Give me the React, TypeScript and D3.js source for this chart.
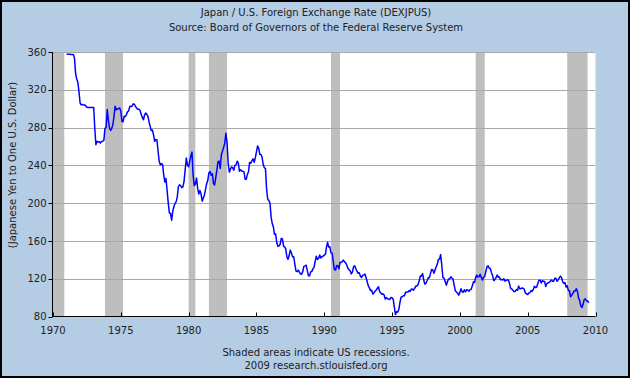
import React from "react";
import * as d3 from "d3";

const titleText = "Japan / U.S. Foreign Exchange Rate (DEXJPUS)";
const subtitleText = "Source: Board of Governors of the Federal Reserve System";
const yAxisLabel = "(Japanese Yen to One U.S. Dollar)";
const footerLine1 = "Shaded areas indicate US recessions.";
const footerLine2 = "2009 research.stlouisfed.org";

const xTickYears = [1970, 1975, 1980, 1985, 1990, 1995, 2000, 2005, 2010];
const yTickValues = [80, 120, 160, 200, 240, 280, 320, 360];

// NBER recessions (peak month, trough month)
const recessions: [string, string][] = [
  ["1969-12", "1970-11"],
  ["1973-11", "1975-03"],
  ["1980-01", "1980-07"],
  ["1981-07", "1982-11"],
  ["1990-07", "1991-03"],
  ["2001-03", "2001-11"],
  ["2007-12", "2009-06"],
];

// Monthly yen per dollar, starting January 1971
const firstMonth = "1971-01";
const rates1970s = [
  358.0, 357.5, 357.5, 357.5, 357.4, 357.4, 357.4, 354.0, 337.5, 331.5, 328.0, 318.0,
  306.0, 304.0, 304.5, 304.0, 304.0, 303.0, 301.5, 301.2, 301.2, 301.2, 301.2, 301.2,
  301.2, 278.0, 261.9, 265.5, 264.7, 265.0, 263.6, 265.3, 265.5, 266.4, 279.1, 280.0,
  299.0, 287.6, 279.8, 276.9, 279.0, 282.9, 291.7, 302.5, 298.8, 299.7, 300.1, 300.8,
  297.6, 286.5, 286.0, 292.0, 291.7, 293.7, 296.7, 297.7, 302.5, 302.2, 302.8, 305.1,
  304.7, 302.5, 300.6, 299.3, 299.4, 298.5, 294.1, 291.0, 288.3, 293.1, 295.4, 294.0,
  291.8, 285.7, 281.5, 276.8, 277.4, 272.3, 265.4, 267.4, 266.8, 254.7, 244.0, 240.5,
  241.9, 240.6, 230.0, 222.4, 226.0, 213.7, 200.6, 189.6, 189.1, 182.0, 191.6, 196.2,
  199.8, 201.6, 206.4, 217.5, 219.4, 218.6, 216.3, 217.3, 223.2, 235.5, 247.7, 240.2,
];
const rates1980s = [
  238.5, 244.5, 250.0, 254.0, 229.6, 218.6, 220.1, 226.6, 215.6, 209.6, 213.4, 209.8,
  202.1, 205.5, 208.4, 214.6, 220.5, 224.2, 232.2, 233.4, 229.6, 231.2, 220.8, 219.2,
  226.9, 235.3, 243.8, 244.6, 236.8, 251.2, 255.1, 259.0, 263.4, 274.0, 264.1, 242.6,
  232.8, 236.0, 238.3, 237.6, 234.8, 240.0, 240.5, 244.4, 242.4, 233.8, 235.3, 234.1,
  233.7, 233.0, 225.3, 225.2, 230.4, 233.2, 243.1, 242.2, 245.1, 246.9, 243.3, 247.9,
  254.2, 260.5, 258.4, 251.7, 251.6, 248.8, 241.1, 237.5, 236.5, 214.7, 204.1, 202.8,
  199.9, 184.9, 178.7, 175.1, 167.0, 167.5, 158.6, 154.2, 154.7, 156.5, 162.7, 162.1,
  154.5, 153.5, 151.6, 143.0, 140.5, 144.5, 150.3, 147.3, 143.3, 143.3, 135.4, 128.2,
  127.4, 129.1, 127.2, 124.9, 124.8, 127.5, 133.1, 133.6, 134.3, 128.5, 123.2, 123.2,
  127.2, 127.8, 130.4, 132.0, 138.4, 143.9, 140.4, 141.5, 145.1, 141.9, 143.5, 143.7,
];
const rates1990s = [
  145.0, 145.7, 153.3, 158.5, 153.5, 153.8, 147.4, 147.1, 138.4, 129.6, 129.2, 133.9,
  133.7, 130.5, 137.4, 137.1, 138.2, 139.8, 137.8, 136.8, 134.3, 130.8, 129.6, 128.1,
  125.1, 127.5, 132.7, 133.6, 130.6, 128.0, 125.7, 126.3, 122.6, 121.2, 123.8, 123.9,
  124.9, 120.8, 117.0, 112.4, 110.3, 107.4, 107.7, 103.8, 105.1, 106.9, 107.9, 109.9,
  111.4, 106.3, 105.1, 103.5, 104.0, 102.7, 98.5, 100.0, 98.8, 98.4, 98.0, 100.2,
  99.8, 98.2, 90.8, 82.0, 85.1, 84.6, 87.4, 94.7, 100.6, 100.8, 101.9, 101.9,
  105.8, 105.8, 105.9, 107.4, 106.5, 108.8, 109.2, 107.9, 109.8, 112.3, 112.3, 113.9,
  117.9, 122.9, 122.7, 125.6, 119.2, 114.3, 115.1, 117.9, 120.9, 121.1, 125.4, 129.7,
  129.4, 125.8, 129.0, 132.4, 135.0, 140.3, 140.7, 145.5, 134.5, 121.3, 120.6, 117.4,
  113.2, 116.7, 119.7, 119.7, 122.0, 120.7, 119.7, 113.2, 107.3, 106.0, 104.7, 102.6,
];
const rates2000s = [
  105.3, 109.4, 106.3, 105.6, 108.3, 106.1, 108.2, 108.1, 106.8, 108.4, 108.9, 112.2,
  116.7, 116.1, 121.2, 123.8, 121.8, 122.2, 124.6, 121.4, 118.6, 121.5, 122.4, 127.6,
  132.7, 133.6, 131.1, 130.8, 126.4, 123.3, 118.0, 119.0, 121.1, 123.9, 121.6, 121.9,
  118.8, 119.3, 118.6, 119.9, 117.4, 118.3, 118.7, 118.7, 114.8, 109.5, 109.2, 107.7,
  106.3, 106.6, 108.5, 107.7, 112.2, 109.4, 109.4, 110.2, 110.0, 108.8, 104.7, 103.8,
  103.3, 104.9, 105.3, 107.4, 106.6, 108.7, 111.9, 110.6, 111.2, 114.9, 118.5, 118.5,
  115.5, 117.9, 117.3, 117.1, 111.7, 114.7, 115.6, 115.9, 117.2, 118.6, 117.3, 117.3,
  120.5, 120.5, 117.3, 118.8, 120.8, 122.7, 121.4, 116.7, 115.0, 115.9, 111.2, 112.4,
  107.6, 107.2, 100.8, 102.6, 104.4, 106.9, 106.9, 109.4, 106.6, 99.9, 96.8, 91.3,
  89.5, 92.9, 97.9, 98.8, 96.6, 96.6, 94.5,
];

const W = 630;
const H = 378;
const plotLeft = 53;
const plotRight = 595.5;
const plotTop = 52;
const plotBottom = 316.5;
const FONT = "'DejaVu Sans', Verdana, sans-serif";
const TEXT_COLOR = "#222";
const FS = 10;

const parseMonth = d3.timeParse("%Y-%m");

export default function App() {
  const allRates = [...rates1970s, ...rates1980s, ...rates1990s, ...rates2000s];
  const start = parseMonth(firstMonth) as Date;
  const series = allRates.map((v, i) => ({ date: d3.timeMonth.offset(start, i), value: v }));

  const x = d3
    .scaleTime()
    .domain([new Date(1970, 0, 1), new Date(2010, 0, 1)])
    .range([plotLeft, plotRight]);
  const y = d3.scaleLinear().domain([80, 360]).range([plotBottom, plotTop]);

  const line = d3
    .line<{ date: Date; value: number }>()
    .x((d) => x(d.date))
    .y((d) => y(d.value));

  const [d0, d1] = x.domain();

  return (
    <svg
      width={W}
      height={H}
      style={{ position: "absolute", left: 0, top: 0, display: "block" }}
      fontFamily={FONT}
    >
      <defs>
        <clipPath id="plotClip">
          <rect x={plotLeft} y={plotTop} width={plotRight - plotLeft} height={plotBottom - plotTop} />
        </clipPath>
      </defs>
      <rect x={0} y={0} width={W} height={H} fill="#b4cce4" />
      <rect x={1} y={1} width={W - 2} height={H - 2} fill="none" stroke="#000" strokeWidth={2} />

      <text x={316} y={16} textAnchor="middle" fontSize={FS} fill={TEXT_COLOR}>
        {titleText}
      </text>
      <text x={316} y={31} textAnchor="middle" fontSize={FS} fill={TEXT_COLOR}>
        {subtitleText}
      </text>

      <rect
        x={plotLeft}
        y={plotTop}
        width={plotRight - plotLeft}
        height={plotBottom - plotTop}
        fill="#fff"
      />

      <g clipPath="url(#plotClip)">
        {recessions.map(([s, e], i) => {
          const sd = parseMonth(s) as Date;
          const ed = parseMonth(e) as Date;
          const xs = x(sd < d0 ? d0 : sd);
          const xe = x(ed > d1 ? d1 : ed);
          return (
            <rect key={i} x={xs} y={plotTop} width={xe - xs} height={plotBottom - plotTop} fill="#bebebe" />
          );
        })}
        {yTickValues.map((v) => (
          <line
            key={v}
            x1={plotLeft}
            x2={plotRight}
            y1={Math.round(y(v)) + 0.5}
            y2={Math.round(y(v)) + 0.5}
            stroke="#a8a8a8"
            strokeWidth={1}
          />
        ))}
        <path d={line(series) || ""} fill="none" stroke="#0000ff" strokeWidth={1.5} strokeLinejoin="round" />
      </g>

      {/* axes */}
      <line x1={52.5} x2={52.5} y1={plotTop} y2={plotBottom + 0.5} stroke="#000" strokeWidth={1} />
      <line x1={52.5} x2={plotRight} y1={316.5} y2={316.5} stroke="#000" strokeWidth={1} />

      {yTickValues.map((v) => (
        <g key={v}>
          <line
            x1={48.5}
            x2={52.5}
            y1={Math.round(y(v)) + 0.5}
            y2={Math.round(y(v)) + 0.5}
            stroke="#000"
            strokeWidth={1}
          />
          <text x={46.5} y={y(v) + 3.6} textAnchor="end" fontSize={FS} fill={TEXT_COLOR}>
            {v}
          </text>
        </g>
      ))}

      {xTickYears.map((yr) => {
        const xp = Math.round(x(new Date(yr, 0, 1))) + 0.5;
        return (
          <g key={yr}>
            <line x1={xp} x2={xp} y1={312.5} y2={316.5} stroke="#000" strokeWidth={1} />
            <text x={x(new Date(yr, 0, 1))} y={334} textAnchor="middle" fontSize={FS} fill={TEXT_COLOR}>
              {yr}
            </text>
          </g>
        );
      })}

      <text
        transform={`translate(15.5, 165) rotate(-90)`}
        textAnchor="middle"
        fontSize={FS}
        fill={TEXT_COLOR}
      >
        {yAxisLabel}
      </text>

      <text x={316} y={355.5} textAnchor="middle" fontSize={FS} fill={TEXT_COLOR}>
        {footerLine1}
      </text>
      <text x={316} y={369} textAnchor="middle" fontSize={FS} fill={TEXT_COLOR}>
        {footerLine2}
      </text>
    </svg>
  );
}
